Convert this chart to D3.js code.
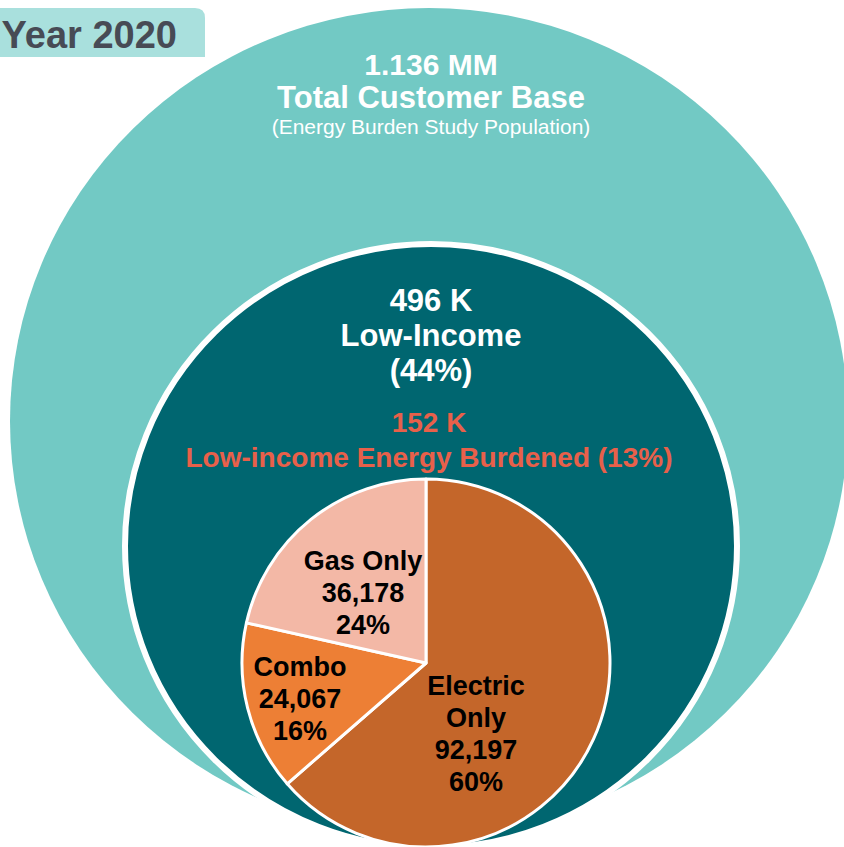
<!DOCTYPE html>
<html>
<head>
<meta charset="utf-8">
<script src="https://cdn.jsdelivr.net/npm/d3@7"></script>
<style>
  body { margin: 0; background: #fff; }
  svg { display: block; font-family: Arial, "Liberation Sans", sans-serif; }
</style>
</head>
<body>
<div id="chart"></div>
<script>
// data
const year = "Year 2020";
const totalLines = ["1.136 MM", "Total Customer Base"];
const totalNote = "(Energy Burden Study Population)";
const lowIncomeLines = ["496 K", "Low-Income", "(44%)"];
const burdenedLines = ["152 K", "Low-income Energy Burdened (13%)"];
const segments = ["Electric Only", "Combo", "Gas Only"];
const customers = ["92,197", "24,067", "36,178"];
const sharePct = ["60%", "16%", "24%"];
// wedge sizes as drawn in the picture (percent of pie)
const wedgePct = [63.6, 14.9, 21.5];

const width = 844, height = 847;
const colors = ["#C4662A", "#ED7F35", "#F3B8A6"];

const svg = d3.select("#chart").append("svg")
  .attr("width", width)
  .attr("height", height);

// title tab
svg.append("path")
  .attr("d", "M-10,8 H195 Q205,8 205,18 V57 H-10 Z")
  .attr("fill", "#A9E0DD");
svg.append("text")
  .attr("x", 177).attr("y", 48)
  .attr("text-anchor", "end")
  .attr("font-size", 38).attr("font-weight", "bold")
  .attr("fill", "#474B55")
  .text(year);

// outer ring - total customers
svg.append("ellipse")
  .attr("cx", 429).attr("cy", 421)
  .attr("rx", 419).attr("ry", 413)
  .attr("fill", "#72C9C4");

svg.selectAll(".total")
  .data(totalLines)
  .enter().append("text")
  .attr("x", 431)
  .attr("y", (d, i) => 75 + i * 33)
  .attr("text-anchor", "middle")
  .attr("font-size", (d, i) => i == 0 ? 30 : 31)
  .attr("font-weight", "bold")
  .attr("fill", "#fff")
  .text(d => d);
svg.append("text")
  .attr("x", 431).attr("y", 134)
  .attr("text-anchor", "middle")
  .attr("font-size", 21)
  .attr("fill", "#fff")
  .text(totalNote);

// middle ring - low income
svg.append("ellipse")
  .attr("cx", 431).attr("cy", 546)
  .attr("rx", 306).attr("ry", 302)
  .attr("fill", "#006670")
  .attr("stroke", "#fff")
  .attr("stroke-width", 6);

svg.selectAll(".low")
  .data(lowIncomeLines)
  .enter().append("text")
  .attr("x", 431)
  .attr("y", (d, i) => 311 + i * 35)
  .attr("text-anchor", "middle")
  .attr("font-size", 31)
  .attr("font-weight", "bold")
  .attr("fill", "#fff")
  .text(d => d);

svg.selectAll(".burden")
  .data(burdenedLines)
  .enter().append("text")
  .attr("x", 429)
  .attr("y", (d, i) => 432 + i * 35)
  .attr("text-anchor", "middle")
  .attr("font-size", 28)
  .attr("font-weight", "bold")
  .attr("fill", "#E8604A")
  .text(d => d);

// pie
const cx = 426, cy = 663, r = 184;
const pie = d3.pie().sort(null).value(d => d);
const arc = d3.arc().innerRadius(0).outerRadius(r);
const arcs = pie(wedgePct);

const g = svg.append("g").attr("transform", `translate(${cx},${cy})`);
g.selectAll("path")
  .data(arcs)
  .enter().append("path")
  .attr("d", arc)
  .attr("fill", (d, i) => colors[i])
  .attr("stroke", "#fff")
  .attr("stroke-width", 3)
  .attr("stroke-linejoin", "round");

// slice labels (block centre relative to pie centre)
const labelPos = [[50, 70], [-126, 35], [-63, -71]];
const labelLines = segments.map((s, i) => {
  const name = s == "Electric Only" ? ["Electric", "Only"] : [s];
  return name.concat([customers[i], sharePct[i]]);
});

labelLines.forEach((lines, i) => {
  const t = g.append("text")
    .attr("text-anchor", "middle")
    .attr("font-size", 27)
    .attr("font-weight", "bold")
    .attr("fill", "#000");
  lines.forEach((l, j) => {
    t.append("tspan")
      .attr("x", labelPos[i][0])
      .attr("y", labelPos[i][1] - ((lines.length - 1) * 32) / 2 + j * 32 + 10)
      .text(l);
  });
});
</script>
</body>
</html>
